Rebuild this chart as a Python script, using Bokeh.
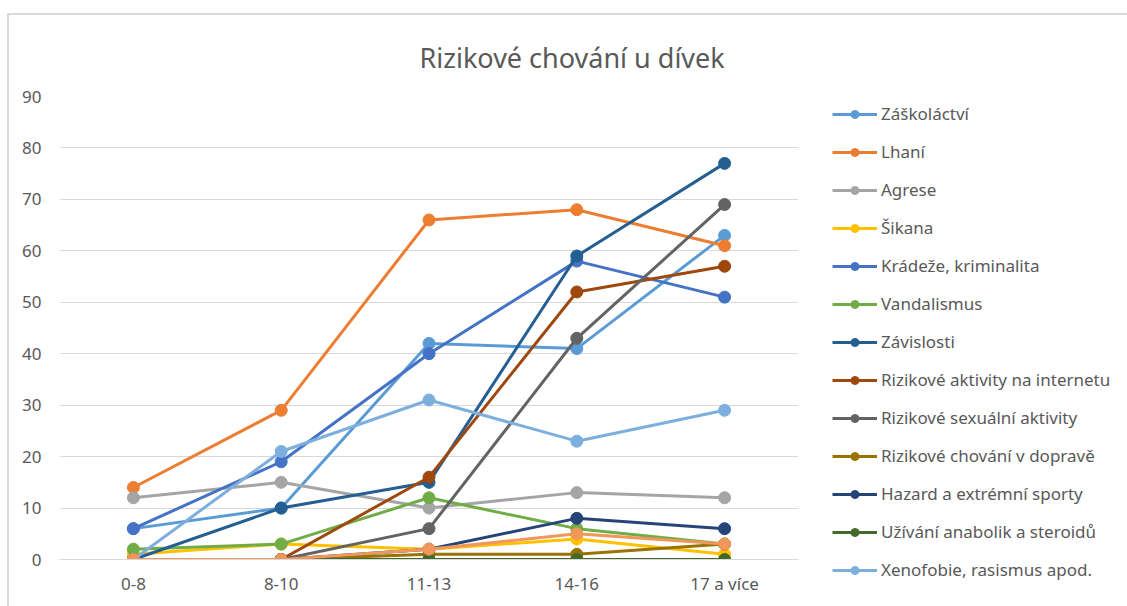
from bokeh.plotting import figure
from bokeh.models import Legend, LegendItem, FactorRange, Range1d, SingleIntervalTicker
from bokeh.embed import file_html
from bokeh.resources import INLINE

categories = ["0-8", "8-10", "11-13", "14-16", "17 a více"]

zaskolactvi = [6, 10, 42, 41, 63]
lhani = [14, 29, 66, 68, 61]
agrese = [12, 15, 10, 13, 12]
sikana = [1, 3, 2, 4, 1]
kradeze = [6, 19, 40, 58, 51]
vandalismus = [2, 3, 12, 6, 3]
zavislosti = [0, 10, 15, 59, 77]
internet = [0, 0, 16, 52, 57]
sexualni = [0, 0, 6, 43, 69]
doprava = [0, 0, 1, 1, 3]
hazard = [0, 0, 2, 8, 6]
anabolika = [0, 0, 0, 0, 0]
xenofobie = [0, 21, 31, 23, 29]
ostatni = [0, 0, 2, 5, 3]

names = ["Záškoláctví", "Lhaní", "Agrese", "Šikana", "Krádeže, kriminalita",
         "Vandalismus", "Závislosti", "Rizikové aktivity na internetu",
         "Rizikové sexuální aktivity", "Rizikové chování v dopravě",
         "Hazard a extrémní sporty", "Užívání anabolik a steroidů",
         "Xenofobie, rasismus apod.", ""]
values = [zaskolactvi, lhani, agrese, sikana, kradeze, vandalismus, zavislosti,
          internet, sexualni, doprava, hazard, anabolika, xenofobie, ostatni]
colors = ["#5B9BD5", "#ED7D31", "#A5A5A5", "#FFC000", "#4472C4", "#70AD47",
          "#255E91", "#9E480E", "#636363", "#997300", "#264478", "#43682B",
          "#7CAFDD", "#F1975A"]

FONT = "Noto Sans"
TXT = "#595959"

p = figure(frame_width=739, frame_height=463,
           x_range=FactorRange(*categories, range_padding=0),
           y_range=Range1d(0, 90), output_backend="svg", toolbar_location=None,
           min_border_left=50, min_border_right=329, min_border_top=81,
           min_border_bottom=47)
p.margin = (13, 0, 0, 7)
p.styles = {"border-left": "2px solid #D9D9D9", "border-top": "2px solid #D9D9D9"}

p.title.text = "Rizikové chování u dívek"
p.title.text_font = FONT
p.title.text_font_size = "27px"
p.title.text_font_style = "normal"
p.title.text_color = TXT
p.title.align = "left"
p.title.offset = 360
p.title.standoff = 42

p.outline_line_color = None
p.xgrid.grid_line_color = None
p.ygrid.grid_line_color = "#D9D9D9"
p.yaxis.ticker = SingleIntervalTicker(interval=10)
p.yaxis.axis_line_color = None
p.yaxis.major_tick_line_color = None
p.yaxis.minor_tick_line_color = None
p.yaxis.major_label_standoff = 12
p.xaxis.axis_line_color = "#D9D9D9"
p.xaxis.major_tick_line_color = None
p.xaxis.minor_tick_line_color = None
p.xaxis.major_label_standoff = 6
for ax in (p.xaxis, p.yaxis):
    ax.major_label_text_font = FONT
    ax.major_label_text_font_size = "17px"
    ax.major_label_text_color = TXT

items = []
for name, vals, col in zip(names, values, colors):
    r1 = p.line(categories, vals, line_color=col, line_width=3)
    r2 = p.scatter(categories, vals, size=12, fill_color=col, line_color=col)
    if name:
        items.append(LegendItem(label=name, renderers=[r1, r2]))

legend = Legend(items=items, location=(34, -22), margin=0, padding=0,
                glyph_width=45, glyph_height=20, label_height=20, spacing=15,
                label_standoff=4, label_text_font=FONT, label_text_font_size="17px",
                label_text_color=TXT, border_line_color=None,
                background_fill_alpha=0)
p.add_layout(legend, "right")

open("out.html", "w").write(file_html(p, INLINE))
